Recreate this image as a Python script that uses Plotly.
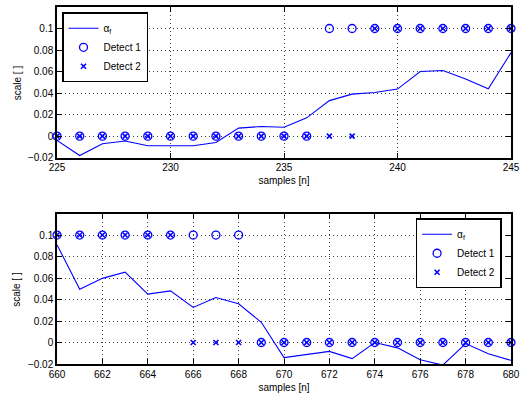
import plotly.graph_objects as go

# Top panel
n_top = list(range(225, 246))
alpha_top = [-0.004, -0.018, -0.007, -0.0045, -0.009, -0.009, -0.009, -0.006, 0.0074, 0.009,
             0.0083, 0.017, 0.033, 0.039, 0.0406, 0.0437, 0.060, 0.061, 0.053, 0.044, 0.0776]
det1_top = [0]*12 + [0.1]*9
det2_top = [0]*14 + [0.1]*7

# Bottom panel
n_bot = list(range(660, 681))
alpha_bot = [0.091, 0.0495, 0.0597, 0.0655, 0.045, 0.048, 0.0326, 0.0419, 0.036, 0.0188,
             -0.014, -0.011, -0.0083, -0.015, 0.0, -0.005, -0.016, -0.021, -0.001, -0.0105, -0.0166]
det1_bot = [0.1]*9 + [0]*12
det2_bot = [0.1]*6 + [0]*15

yticks = [-0.02, 0, 0.02, 0.04, 0.06, 0.08, 0.1]
ytick_text = ["\u22120.02", "0", "0.02", "0.04", "0.06", "0.08", "0.1"]
y_title = "scale [ ]"
x_title = "samples [n]"

BLUE = "rgb(0,0,255)"
FONT = "Liberation Sans, Arial, sans-serif"

fig = go.Figure()

def add_panel(x, a, d1, d2, xa, ya, leg):
    fig.add_trace(go.Scatter(x=x, y=a, mode="lines", line=dict(color=BLUE, width=1.1),
                             name="\u03b1<sub>f</sub>", xaxis=xa, yaxis=ya, legend=leg))
    fig.add_trace(go.Scatter(x=x, y=d1, mode="markers", name="Detect 1",
                             marker=dict(symbol="circle-open", size=8, color=BLUE, line=dict(width=1.3)),
                             xaxis=xa, yaxis=ya, legend=leg, cliponaxis=False))
    fig.add_trace(go.Scatter(x=x, y=d2, mode="markers", name="Detect 2",
                             marker=dict(symbol="x-thin-open", size=5, color=BLUE, line=dict(width=1.6, color=BLUE)),
                             xaxis=xa, yaxis=ya, legend=leg, cliponaxis=False))

add_panel(n_top, alpha_top, det1_top, det2_top, "x", "y", "legend")
add_panel(n_bot, alpha_bot, det1_bot, det2_bot, "x2", "y2", "legend2")

axis_common = dict(showline=True, linecolor="black", linewidth=1.5, mirror="ticks",
                   ticks="inside", ticklen=5, tickcolor="black", automargin=False,
                   showgrid=True, gridcolor="rgba(40,40,40,0.9)", griddash="1px,3px", gridwidth=1,
                   zeroline=False, tickfont=dict(size=10, color="black", family=FONT))

W, H = 523, 396
L, R, T, B = 57, 12.3, 6.7, 31.7
PW = W - L - R
PH = H - T - B

def ydom(top_px, bot_px):
    return [1 - (bot_px - T) / PH, 1 - (top_px - T) / PH]

top_dom = ydom(6.7, 157.6)
bot_dom = ydom(213.6, 364.3)

annotations = []
for dom in (top_dom, bot_dom):
    annotations.append(dict(text=y_title, xref="paper", yref="paper", x=(17 - L) / PW,
                            y=(dom[0] + dom[1]) / 2, showarrow=False, textangle=-90,
                            xanchor="center", yanchor="middle", font=dict(size=10, family=FONT)))

fig.update_layout(
    width=W, height=H, margin=dict(l=L, r=R, t=T, b=B, autoexpand=False),
    paper_bgcolor="white", plot_bgcolor="white",
    font=dict(family=FONT, size=10, color="black"),
    xaxis=dict(domain=[0, 1], range=[225, 245], tickvals=[225, 230, 235, 240, 245], anchor="y",
               title=dict(text=x_title, standoff=5, font=dict(size=10)), **axis_common),
    yaxis=dict(domain=top_dom, range=[-0.02, 0.12], tickvals=yticks, ticktext=ytick_text,
               anchor="x", **axis_common),
    xaxis2=dict(domain=[0, 1], range=[660, 680], tickvals=list(range(660, 681, 2)), anchor="y2",
                title=dict(text=x_title, standoff=5, font=dict(size=10)), **axis_common),
    yaxis2=dict(domain=bot_dom, range=[-0.02, 0.12], tickvals=yticks, ticktext=ytick_text,
                anchor="x2", **axis_common),
    annotations=annotations,
    legend=dict(x=(62 - L) / PW, y=1 - (12 - T) / PH, xanchor="left", yanchor="top",
                bgcolor="white", bordercolor="black", borderwidth=1.5, font=dict(size=10),
                tracegroupgap=0, itemwidth=30),
    legend2=dict(x=(501.3 - L) / PW, y=1 - (218.3 - T) / PH, xanchor="right", yanchor="top",
                 bgcolor="white", bordercolor="black", borderwidth=1.5, font=dict(size=10),
                 tracegroupgap=0, itemwidth=30),
)

fig.write_html("out.html")
